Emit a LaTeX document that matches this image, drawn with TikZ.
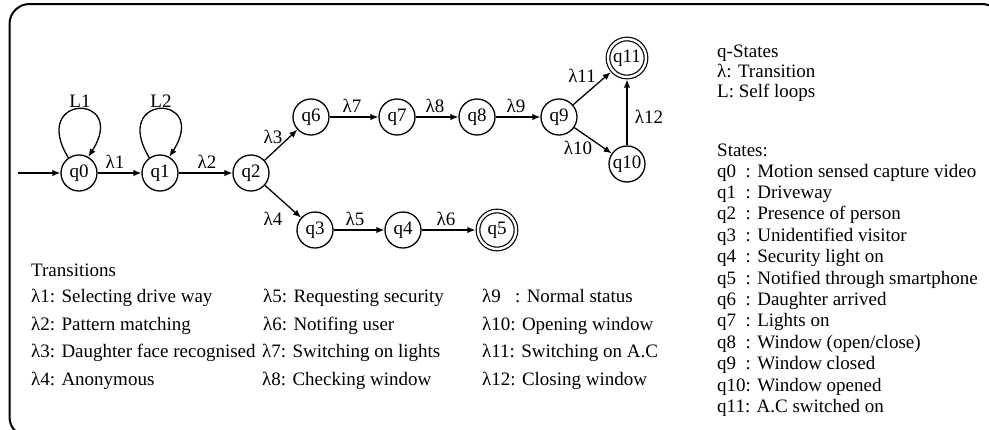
\documentclass[tikz,border=0pt]{standalone}
\usepackage{fontspec}
\setmainfont{Liberation Serif}
\usetikzlibrary{arrows.meta}
\newcommand{\fs}{\fontsize{19pt}{21pt}\selectfont}
\tikzset{
  st/.style={circle, draw, line width=1.3pt, minimum size=36pt, inner sep=0pt, font=\fs},
  acc/.style={circle, draw, line width=1.2pt, double, double distance=2.4pt, minimum size=38pt, inner sep=0pt, outer sep=2.6pt, font=\fs},
  arr/.style={line width=1.3pt, -{Latex[length=8pt,width=6.5pt]}},
  lbl/.style={inner sep=0pt, font=\fs},
  txt/.style={anchor=base west, inner sep=0pt, font=\fs},
}
\begin{document}
\begin{tikzpicture}[x=1pt, y=-1pt]
\useasboundingbox (0,0) rectangle (989,429);
\clip (0,0) rectangle (989,429);
\draw[line width=2pt, rounded corners=20pt] (9.5,4) rectangle (1002,437);

% states
\node[st] (q0) at (79,173) {q0};
\node[st] (q1) at (160,173) {q1};
\node[st] (q2) at (251,173) {q2};
\node[st] (q6) at (311,117) {q6};
\node[st] (q7) at (397,117) {q7};
\node[st] (q8) at (477,117) {q8};
\node[st] (q9) at (559,117) {q9};
\node[acc] (q11) at (627,58) {q11};
\node[st] (q10) at (627,164) {q10};
\node[st] (q3) at (315,230) {q3};
\node[st] (q4) at (403,230) {q4};
\node[acc] (q5) at (497,230) {q5};
\coordinate (start) at (18,173);

% connectors
\draw[arr] (start) -- (q0);
\draw[arr] (q0) -- (q1);
\draw[arr] (q1) -- (q2);
\draw[arr] (q2) -- (q6);
\draw[arr] (q2) -- (q3);
\draw[arr] (q6) -- (q7);
\draw[arr] (q7) -- (q8);
\draw[arr] (q8) -- (q9);
\draw[arr] (q9) -- (q11);
\draw[arr] (q9) -- (q10);
\draw[arr] (q10) -- (q11);
\draw[arr] (q3) -- (q4);
\draw[arr] (q4) -- (q5);
\draw[arr] (q0.125) .. controls ([shift={(-50,-80)}]q0.center) and ([shift={(50,-80)}]q0.center) .. (q0.60);
\draw[arr] (q1.125) .. controls ([shift={(-50,-80)}]q1.center) and ([shift={(50,-80)}]q1.center) .. (q1.60);

% edge labels
\node[lbl] (lL1) at (80,101) {L1};
\node[lbl] (lL2) at (161,101) {L2};
\node[lbl] (l1) at (115,162) {λ1};
\node[lbl] (l2) at (207,162) {λ2};
\node[lbl] (l3) at (273,137) {λ3};
\node[lbl] (l4) at (273,219) {λ4};
\node[lbl] (l5) at (355,219) {λ5};
\node[lbl] (l6) at (446,219) {λ6};
\node[lbl] (l7) at (352,106) {λ7};
\node[lbl] (l8) at (435,106) {λ8};
\node[lbl] (l9) at (516,106) {λ9};
\node[lbl] (l10) at (578,148) {λ10};
\node[lbl] (l11) at (582,76) {λ11};
\node[lbl] (l12) at (649,117) {λ12};

% legend right
\node[txt] (k1) at (717,57) {q-States};
\node[txt] (k2) at (717,77) {λ: Transition};
\node[txt] (k3) at (717,97) {L: Self loops};
\node[txt] (k4) at (717,156) {States:};
\node[txt] (s0) at (717,177.0) {q0\phantom{0}: Motion sensed capture video};
\node[txt] (s1) at (717,198.4) {q1\phantom{0}: Driveway};
\node[txt] (s2) at (717,219.8) {q2\phantom{0}: Presence of person};
\node[txt] (s3) at (717,241.2) {q3\phantom{0}: Unidentified visitor};
\node[txt] (s4) at (717,262.6) {q4\phantom{0}: Security light on};
\node[txt] (s5) at (717,284.0) {q5\phantom{0}: Notified through smartphone};
\node[txt] (s6) at (717,305.4) {q6\phantom{0}: Daughter arrived};
\node[txt] (s7) at (717,326.8) {q7\phantom{0}: Lights on};
\node[txt] (s8) at (717,348.2) {q8\phantom{0}: Window (open/close)};
\node[txt] (s9) at (717,369.6) {q9\phantom{0}: Window closed};
\node[txt] (s10) at (717,391.0) {q10: Window opened};
\node[txt] (s11) at (717,412.4) {q11: A.C switched on};

% transitions legend
\node[txt] (tt) at (31,276) {Transitions};
\node[txt] (t1) at (31,302) {λ1: Selecting drive way};
\node[txt] (t2) at (31,330) {λ2: Pattern matching};
\node[txt] (t3) at (31,357) {λ3: Daughter face recognised};
\node[txt] (t4) at (31,385) {λ4: Anonymous};
\node[txt] (t5) at (263,302) {λ5: Requesting security};
\node[txt] (t6) at (263,330) {λ6: Notifing user};
\node[txt] (t7) at (262,357) {λ7: Switching on lights};
\node[txt] (t8) at (262,385) {λ8: Checking window};
\node[txt] (t9) at (482,302) {λ9\phantom{0} : Normal status};
\node[txt] (t10) at (482,330) {λ10: Opening window};
\node[txt] (t11) at (482,357) {λ11: Switching on A.C};
\node[txt] (t12) at (482,385) {λ12: Closing window};
\end{tikzpicture}
\end{document}
